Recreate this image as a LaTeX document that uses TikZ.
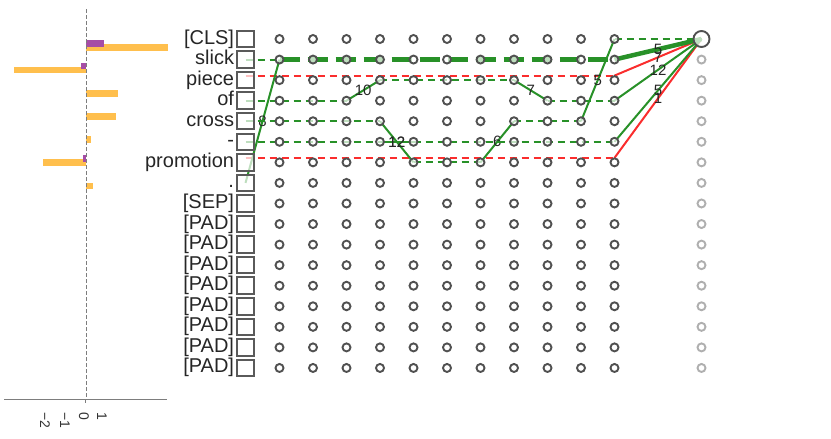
\documentclass[tikz,border=0pt]{standalone}
\usepackage{fontspec}
\setmainfont{Liberation Sans}
\usetikzlibrary{positioning,backgrounds}

\begin{document}
\begin{tikzpicture}[x=1pt, y=-1pt,
    tok/.style={draw=boxgray, line width=2pt, fill=white, fill opacity=0.7,
      draw opacity=1, minimum size=16.5pt, inner sep=0pt},
    toklabel/.style={inner sep=0pt, text height=14pt, text depth=4pt,
      font=\fontsize{20}{24}\selectfont, text=black!85},
    cell/.style={circle, draw=dotgray, line width=1.9pt, fill=white,
      fill opacity=0.7, draw opacity=1, minimum size=8pt, inner sep=0pt},
    outcell/.style={cell, draw=outgray},
    elab/.style={inner sep=0pt, font=\fontsize{15}{18}\selectfont, text=black!85},
    ticklabel/.style={rotate=-90, anchor=west, inner sep=0pt,
      font=\fontsize{14}{16}\selectfont, text=black!80},
    flowline/.style={line width=2pt, linegreen},
    skipline/.style={flowline, dash pattern=on 7pt off 5pt},
    redline/.style={line width=2pt, linered},
    redskip/.style={redline, dash pattern=on 7pt off 5pt},
  ]
  % colors
  \definecolor{linegreen}{RGB}{40,145,40}
  \definecolor{linered}{RGB}{250,45,45}
  \definecolor{dotgray}{RGB}{80,80,80}
  \definecolor{boxgray}{RGB}{90,90,90}
  \definecolor{outgray}{RGB}{175,175,175}
  \definecolor{axisgray}{RGB}{125,125,125}
  \definecolor{barorange}{RGB}{255,191,77}
  \definecolor{barpurple}{RGB}{166,77,166}

  \useasboundingbox (0,0) rectangle (831,439);

  % tokens and layer states
  \foreach \i in {0,...,16} {
    \node[tok] (tok\i) at (245.5, 39+20.56*\i) {};
    \foreach \j in {0,...,10}
      \node[cell] (n-\i-\j) at (279.5+33.5*\j, 39+20.56*\i) {};
  }
  \foreach \t [count=\i from 0] in {{[CLS]},slick,piece,of,cross,-,promotion,.,{[SEP]},
      {[PAD]},{[PAD]},{[PAD]},{[PAD]},{[PAD]},{[PAD]},{[PAD]},{[PAD]}}
    \node[toklabel, left=2pt of tok\i] (lab\i) {\t};

  % output column
  \node[cell, minimum size=16pt] (out0) at (701.5,39) {};
  \foreach \i in {1,...,16}
    \node[outcell] (out\i) at (701.5, 39+20.56*\i) {};

  \begin{scope}[on background layer]
    % piece and promotion (red)
    \draw[redskip] ([yshift=4.5pt]tok2.center) -- ([yshift=4.5pt]n-2-10.center);
    \draw[redline] ([yshift=4.5pt]n-2-10.center) -- node[elab] (w7) {7} (out0.center);
    \draw[redskip] ([yshift=4.5pt]tok6.center) -- ([yshift=4.5pt]n-6-10.center);
    \draw[redline] ([yshift=4.5pt]n-6-10.center) -- node[elab] (w1) {1} (out0.center);

    % slick, joined by the full stop
    \draw[skipline] (tok1.center) -- (n-1-0.center);
    \draw[flowline] (tok7.center) -- node[elab] (w8) {8} (n-1-0.center);
    \draw[skipline, line width=4.5pt, dash pattern=on 20pt off 8pt] (n-1-0.center) -- (n-1-10.center);
    \draw[flowline, line width=4.5pt] (n-1-10.center) -- node[elab] (w5a) {5} (out0.center);

    % of
    \draw[skipline] (tok3.center) -- (n-3-2.center);
    \draw[flowline] (n-3-2.center) -- node[elab] (w10) {10} (n-2-3.center);
    \draw[skipline] (n-2-3.center) -- (n-2-7.center);
    \draw[flowline] (n-2-7.center) -- node[elab] (w7b) {7} (n-3-8.center);
    \draw[skipline] (n-3-8.center) -- (n-3-10.center);
    \draw[flowline] (n-3-10.center) -- node[elab] (w12) {12} (out0.center);

    % cross
    \draw[skipline] (tok4.center) -- (n-4-3.center);
    \draw[flowline] (n-4-3.center) -- node[elab] (w12b) {12} (n-6-4.center);
    \draw[skipline] (n-6-4.center) -- (n-6-6.center);
    \draw[flowline] (n-6-6.center) -- node[elab] (w6) {6} (n-4-7.center);
    \draw[skipline] (n-4-7.center) -- (n-4-9.center);
    \draw[flowline] (n-4-9.center) -- node[elab] (w5b) {5} (n-0-10.center);
    \draw[skipline] (n-0-10.center) -- (out0.center);

    % hyphen
    \draw[skipline] (tok5.center) -- (n-5-3.center);
    \draw[flowline] (n-5-3.center) -- node[elab] (w12c) {12} (n-5-4.center);
    \draw[skipline] (n-5-4.center) -- (n-5-10.center);
    \draw[flowline] (n-5-10.center) -- node[elab] (w5c) {5} (out0.center);
  \end{scope}

  % bar chart
  \fill[barorange] (86,44) rectangle (168,51);
  \fill[barorange] (14,67) rectangle (86,73);
  \fill[barorange] (86,90) rectangle (118,97);
  \fill[barorange] (86,113) rectangle (115.5,120);
  \fill[barorange] (86,136) rectangle (91,143);
  \fill[barorange] (43,159) rectangle (86,166);
  \fill[barorange] (86,182.5) rectangle (93,189);
  \fill[barpurple] (86,40) rectangle (104,47);
  \fill[barpurple] (81,63) rectangle (86,69);
  \fill[barpurple] (83,155) rectangle (86,162);

  % axes
  \draw[axisgray, line width=1pt, dash pattern=on 4pt off 2pt] (86,9) -- (86,399);
  \draw[axisgray, line width=1pt] (4,399) -- (167,399);
  \draw[axisgray, line width=0.8pt] (85.5,399) -- (85.5,403);
  \foreach \v/\x [count=\k] in {1/102, 0/84, −1/65, −2/45}
    \node[ticklabel] (tick\k) at (\x,412) {\v};
\end{tikzpicture}
\end{document}
